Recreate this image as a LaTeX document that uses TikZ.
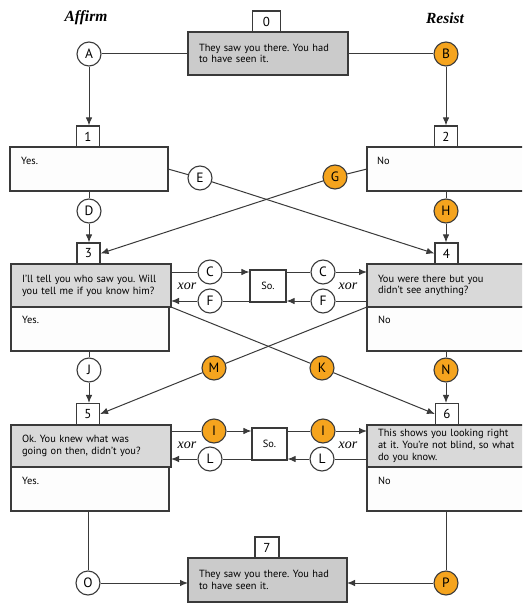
\documentclass[tikz,border=0pt]{standalone}
\usepackage{fontspec}
\setmainfont{PT Sans}
\newfontfamily\tms{Liberation Serif}
\usetikzlibrary{arrows.meta}
\definecolor{ln}{HTML}{3A3A3A}
\definecolor{org}{HTML}{F5A41E}
\definecolor{gA}{HTML}{CBCBCB}
\definecolor{gB}{HTML}{D9D9D9}
\definecolor{wB}{HTML}{FDFDFD}
\frenchspacing
\tikzset{
  x=1pt,y=-1pt,
  box/.style={draw=ln,line width=1.1pt,anchor=north west,inner sep=0pt,outer sep=0pt},
  gbox/.style={box,fill=gB,text width=#1,align=left,inner xsep=11pt,font=\fontsize{10.4}{11.8}\selectfont},
  hbox/.style={box,fill=gA,text width=#1,align=left,inner xsep=11pt,font=\fontsize{10.4}{11.8}\selectfont},
  wbox/.style={box,fill=wB},
  lbl/.style={draw=ln,line width=1.1pt,fill=white,minimum width=23pt,minimum height=21pt,inner sep=0pt,font=\fontsize{13}{13}\selectfont},
  circ/.style={circle,draw=ln,line width=1.1pt,fill=white,minimum size=24pt,inner sep=0pt,font=\fontsize{13.5}{13}\selectfont},
  ocirc/.style={circ,fill=org},
  sobox/.style={draw=ln,line width=1.1pt,fill=white,inner sep=0pt,font=\fontsize{10.4}{10}\selectfont},
  small/.style={anchor=west,inner sep=0pt,font=\fontsize{10.4}{10}\selectfont},
  conn/.style={draw=ln,line width=1pt},
  arr/.style={conn,-{Latex[length=8pt,width=6.5pt]}},
  head/.style={font=\tms\bfseries\itshape\fontsize{15.5}{16}\selectfont},
  xorl/.style={font=\tms\itshape\fontsize{14}{14}\selectfont,inner sep=0pt}
}
\begin{document}
\begin{tikzpicture}
\clip (0,0) rectangle (522,604);
\fill[white] (0,0) rectangle (522,604);
% headings
\node[head] (haff) at (86,18) {Affirm};
\node[head] (hres) at (445,18) {Resist};
% boxes
\node[hbox=138pt,minimum width=158pt,minimum height=43pt] (b0) at (188,32) {They saw you there. You had\\to have seen it.};
\node[lbl,minimum width=28pt] (l0) at (266.5,21.5) {0};
\node[wbox,minimum width=158pt,minimum height=44pt] (b1) at (10,147) {};
\node[lbl] (l1) at (88,136.5) {1};
\node[small] (t1) at (21,161) {Yes.};
\node[wbox,minimum width=160pt,minimum height=44pt] (b2) at (367,147) {};
\node[lbl] (l2) at (446,136.5) {2};
\node[small] (t2) at (377,161) {No};
% row 3/4
\node[gbox=138pt,minimum width=158pt,minimum height=43pt] (b3t) at (11,264) {I'll tell you who saw you. Will\\you tell me if you know him?};
\node[wbox,minimum width=158pt,minimum height=44pt] (b3b) at (11,307) {};
\node[lbl] (l3) at (88.5,253.5) {3};
\node[small] (t3) at (22,320) {Yes.};
\node[gbox=140pt,minimum width=160pt,minimum height=43pt] (b4t) at (367,264) {You were there but you\\didn't see anything?};
\node[wbox,minimum width=160pt,minimum height=44pt] (b4b) at (367,307) {};
\node[lbl] (l4) at (446.5,253.5) {4};
\node[small] (t4) at (378,320) {No};
% row 5/6
\node[gbox=138pt,minimum width=158pt,minimum height=42pt] (b5t) at (11,425) {Ok. You knew what was\\going on then, didn't you?};
\node[wbox,minimum width=158pt,minimum height=44pt] (b5b) at (11,467) {};
\node[lbl] (l5) at (88,414) {5};
\node[small] (t5) at (22,481) {Yes.};
\node[gbox=140pt,minimum width=160pt,minimum height=42pt] (b6t) at (367,425) {This shows you looking right\\at it. You're not blind, so what\\do you know.};
\node[wbox,minimum width=160pt,minimum height=44pt] (b6b) at (367,467) {};
\node[lbl] (l6) at (447,414) {6};
\node[small] (t6) at (378,481) {No};
% final
\node[hbox=137pt,minimum width=157pt,minimum height=44pt] (b7) at (188,558) {They saw you there. You had\\to have seen it.};
\node[lbl,minimum width=24pt] (l7) at (267,547.5) {7};
% So. boxes
\node[sobox,minimum width=36pt,minimum height=32pt] (s1) at (268,286) {So.};
\node[sobox,minimum width=35pt,minimum height=32pt] (s2) at (269.5,444) {So.};
% circles
\node[circ] (A) at (89,54) {A};
\node[ocirc] (B) at (446,54) {B};
\node[circ] (E) at (200,178) {E};
\node[ocirc] (G) at (335,177) {G};
\node[circ] (D) at (89,211) {D};
\node[ocirc] (H) at (446,211) {H};
\node[circ] (C1) at (210,272) {C};
\node[circ] (C2) at (323,272) {C};
\node[circ] (F1) at (210,301) {F};
\node[circ] (F2) at (323,301) {F};
\node[circ] (J) at (89,370) {J};
\node[ocirc] (M) at (214,368) {M};
\node[ocirc] (K) at (322,368) {K};
\node[ocirc] (N) at (446,370) {N};
\node[ocirc] (I1) at (214,431) {I};
\node[ocirc] (I2) at (323,431) {I};
\node[circ] (L1) at (210,459) {L};
\node[circ] (L2) at (322,459) {L};
\node[circ] (O) at (88,583) {O};
\node[ocirc] (P) at (446,583) {P};
% xor labels
\node[xorl] (x1) at (187,286) {xor};
\node[xorl] (x2) at (348,286) {xor};
\node[xorl] (x3) at (187,445) {xor};
\node[xorl] (x4) at (348,445) {xor};
% connectors
\draw[conn] (A) -- (A -| b0.west);
\draw[conn] (b0.east |- B) -- (B);
\draw[arr] (A) -- (A |- l1.north);
\draw[arr] (B) -- (B |- l2.north);
\draw[conn] (b1.south -| D) -- (D);
\draw[arr] (D) -- (D |- l3.north);
\draw[conn] (b2.south -| H) -- (H);
\draw[arr] (H) -- (H |- l4.north);
\draw[conn] (b1.east) -- (E);
\draw[arr] (E) -- (l4.west);
\draw[conn] (b2.west) -- (G);
\draw[arr] (G) -- (l3.east);
% C / F
\draw[conn] (C1 -| b3t.east) -- (C1);
\draw[arr] (C1) -- (C1 -| s1.west);
\draw[conn] (C2 -| s1.east) -- (C2);
\draw[arr] (C2) -- (C2 -| b4t.west);
\draw[conn] (F2 -| b4t.west) -- (F2);
\draw[arr] (F2) -- (F2 -| s1.east);
\draw[conn] (F1 -| s1.west) -- (F1);
\draw[arr] (F1) -- (F1 -| b3t.east);
% cross 2
\draw[conn] (b3t.south east) -- (K);
\draw[arr] (K) -- (l6.west);
\draw[conn] (b4t.south west) -- (M);
\draw[arr] (M) -- (l5.east);
\draw[conn] (b3b.south -| J) -- (J);
\draw[arr] (J) -- (J |- l5.north);
\draw[conn] (b4b.south -| N) -- (N);
\draw[arr] (N) -- (N |- l6.north);
% I / L
\draw[conn] (I1 -| b5t.east) -- (I1);
\draw[arr] (I1) -- (I1 -| s2.west);
\draw[conn] (I2 -| s2.east) -- (I2);
\draw[arr] (I2) -- (I2 -| b6t.west);
\draw[conn] (L2 -| b6t.west) -- (L2);
\draw[arr] (L2) -- (L2 -| s2.east);
\draw[conn] (L1 -| s2.west) -- (L1);
\draw[arr] (L1) -- (L1 -| b5t.east);
% bottom
\draw[conn] (b5b.south -| O) -- (O);
\draw[arr] (O) -- (O -| b7.west);
\draw[conn] (b6b.south -| P) -- (P);
\draw[arr] (P) -- (P -| b7.east);
\end{tikzpicture}
\end{document}
